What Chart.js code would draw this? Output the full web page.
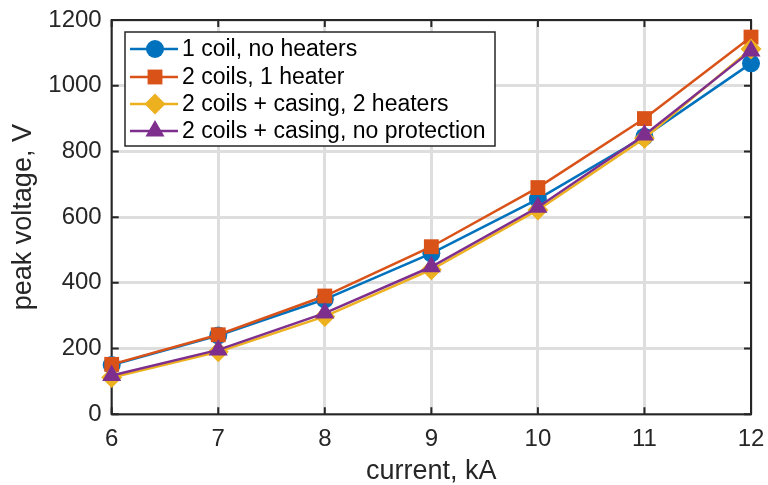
<!DOCTYPE html>
<html>
<head>
<meta charset="utf-8">
<script src="https://cdn.jsdelivr.net/npm/chart.js@4/dist/chart.umd.min.js"></script>
<style>
  html, body { margin: 0; padding: 0; background: #ffffff; }
  #wrap { width: 768px; height: 485px; }
</style>
</head>
<body>
<div id="wrap"><canvas id="c" width="768" height="485"></canvas></div>
<script>
// ---- data ----
const currents = [6, 7, 8, 9, 10, 11, 12];
const oneCoilNoHeaters = [150, 240, 350, 490, 655, 845, 1068];
const twoCoilsOneHeater = [152, 242, 360, 510, 690, 900, 1148];
const twoCoilsCasingTwoHeaters = [112, 190, 298, 440, 622, 840, 1112];
const twoCoilsCasingNoProtection = [118, 196, 308, 449, 630, 850, 1106];
const seriesLabels = [
  '1 coil, no heaters',
  '2 coils, 1 heater',
  '2 coils + casing, 2 heaters',
  '2 coils + casing, no protection'
];
const xTicks = [6, 7, 8, 9, 10, 11, 12];
const yTicks = [0, 200, 400, 600, 800, 1000, 1200];
const xTitle = 'current, kA';
const yTitle = 'peak voltage, V';

const FONT = "'Liberation Sans', Arial, Helvetica, sans-serif";
const AX = '#262626';

function pts(ys) { return currents.map((x, i) => ({ x: x, y: ys[i] })); }

const styles = [
  { color: '#0072BD', pointStyle: 'circle', radius: 9 },
  { color: '#D95319', pointStyle: 'rect', radius: 10.5 },
  { color: '#EDB120', pointStyle: 'rectRot', radius: 10.5 },
  { color: '#7E2F8E', pointStyle: 'triangle', radius: 11 }
];
const seriesData = [oneCoilNoHeaters, twoCoilsOneHeater, twoCoilsCasingTwoHeaters, twoCoilsCasingNoProtection];

const datasets = seriesData.map((d, i) => ({
  label: seriesLabels[i],
  data: pts(d),
  borderColor: styles[i].color,
  backgroundColor: styles[i].color,
  pointBackgroundColor: styles[i].color,
  pointBorderColor: styles[i].color,
  pointBorderWidth: 0,
  pointStyle: styles[i].pointStyle,
  pointRadius: styles[i].radius,
  pointHoverRadius: styles[i].radius,
  borderWidth: 2.5,
  tension: 0,
  clip: false,
  order: 4 - i
}));

function drawMarker(ctx, style, r, x, y, color) {
  ctx.save();
  ctx.fillStyle = color;
  ctx.strokeStyle = color;
  ctx.lineWidth = 0;
  if (window.Chart && Chart.helpers && Chart.helpers.drawPoint) {
    Chart.helpers.drawPoint(ctx, { pointStyle: style, radius: r, rotation: 0, borderWidth: 0 }, x, y);
  } else {
    ctx.beginPath();
    if (style === 'circle') ctx.arc(x, y, r, 0, Math.PI * 2);
    else if (style === 'rect') { const s = r * Math.SQRT1_2; ctx.rect(x - s, y - s, 2 * s, 2 * s); }
    else if (style === 'rectRot') { ctx.moveTo(x - r, y); ctx.lineTo(x, y - r); ctx.lineTo(x + r, y); ctx.lineTo(x, y + r); ctx.closePath(); }
    else if (style === 'triangle') { ctx.moveTo(x, y - r); ctx.lineTo(x + r * 0.866, y + r / 2); ctx.lineTo(x - r * 0.866, y + r / 2); ctx.closePath(); }
    ctx.fill();
  }
  ctx.restore();
}

const framePlugin = {
  id: 'frame',
  beforeDatasetsDraw(chart) {
    const { ctx, chartArea: a, scales } = chart;
    ctx.save();
    ctx.strokeStyle = AX;
    ctx.lineWidth = 2;
    ctx.strokeRect(a.left, a.top, a.right - a.left, a.bottom - a.top);
    const tl = 7;
    ctx.beginPath();
    xTicks.forEach(v => {
      const px = scales.x.getPixelForValue(v);
      ctx.moveTo(px, a.bottom); ctx.lineTo(px, a.bottom - tl);
      ctx.moveTo(px, a.top); ctx.lineTo(px, a.top + tl);
    });
    yTicks.forEach(v => {
      const py = scales.y.getPixelForValue(v);
      ctx.moveTo(a.left, py); ctx.lineTo(a.left + tl, py);
      ctx.moveTo(a.right, py); ctx.lineTo(a.right - tl, py);
    });
    ctx.stroke();
    ctx.restore();
  }
};

const legendPlugin = {
  id: 'boxLegend',
  afterDraw(chart) {
    const { ctx } = chart;
    const bx = 125, by = 32, bw = 370, bh = 114;
    ctx.save();
    ctx.fillStyle = '#ffffff';
    ctx.fillRect(bx, by, bw, bh);
    ctx.strokeStyle = AX;
    ctx.lineWidth = 1.5;
    ctx.strokeRect(bx, by, bw, bh);
    const rows = [49, 77, 104, 131];
    chart.data.datasets.forEach((ds, i) => {
      const y = rows[i];
      ctx.strokeStyle = ds.borderColor;
      ctx.lineWidth = 2.5;
      ctx.beginPath();
      ctx.moveTo(130, y); ctx.lineTo(178, y);
      ctx.stroke();
      drawMarker(ctx, ds.pointStyle, ds.pointRadius, 155, y, ds.borderColor);
      ctx.fillStyle = '#000000';
      ctx.font = '23px ' + FONT;
      ctx.textBaseline = 'middle';
      ctx.textAlign = 'left';
      ctx.fillText(ds.label, 182, y + 1);
    });
    ctx.restore();
  }
};

new Chart(document.getElementById('c'), {
  type: 'line',
  data: { datasets: datasets },
  options: {
    responsive: false,
    animation: false,
    events: [],
    layout: { autoPadding: false, padding: { left: 0, top: 20, right: 17, bottom: 0 } },
    plugins: { legend: { display: false }, tooltip: { enabled: false } },
    scales: {
      x: {
        type: 'linear',
        min: 6, max: 12,
        afterBuildTicks(scale) { scale.ticks = xTicks.map(v => ({ value: v })); },
        afterFit(scale) {
          scale.height = 70.7;
          scale.paddingLeft = 0; scale.paddingRight = 0; scale.paddingTop = 0; scale.paddingBottom = 0;
        },
        ticks: { color: AX, font: { family: FONT, size: 24 }, padding: 11, maxRotation: 0, autoSkip: false,
                 callback: v => String(v) },
        grid: { color: '#dedede', lineWidth: 3, drawTicks: false },
        border: { display: false },
        title: { display: true, text: xTitle, color: AX, font: { family: FONT, size: 27, lineHeight: 0.9 }, padding: { top: 0, bottom: 1.5 } }
      },
      y: {
        type: 'linear',
        min: 0, max: 1200,
        afterBuildTicks(scale) { scale.ticks = yTicks.map(v => ({ value: v })); },
        afterFit(scale) {
          scale.width = 111.7;
          scale.paddingLeft = 0; scale.paddingRight = 0; scale.paddingTop = 0; scale.paddingBottom = 0;
        },
        ticks: { color: AX, font: { family: FONT, size: 24 }, padding: 10, autoSkip: false,
                 callback: v => String(v) },
        grid: { color: '#dedede', lineWidth: 3, drawTicks: false },
        border: { display: false },
        title: { display: true, text: yTitle, color: AX, font: { family: FONT, size: 27 }, padding: { top: 7.7, bottom: 0 } }
      }
    }
  },
  plugins: [framePlugin, legendPlugin]
});
</script>
</body>
</html>
